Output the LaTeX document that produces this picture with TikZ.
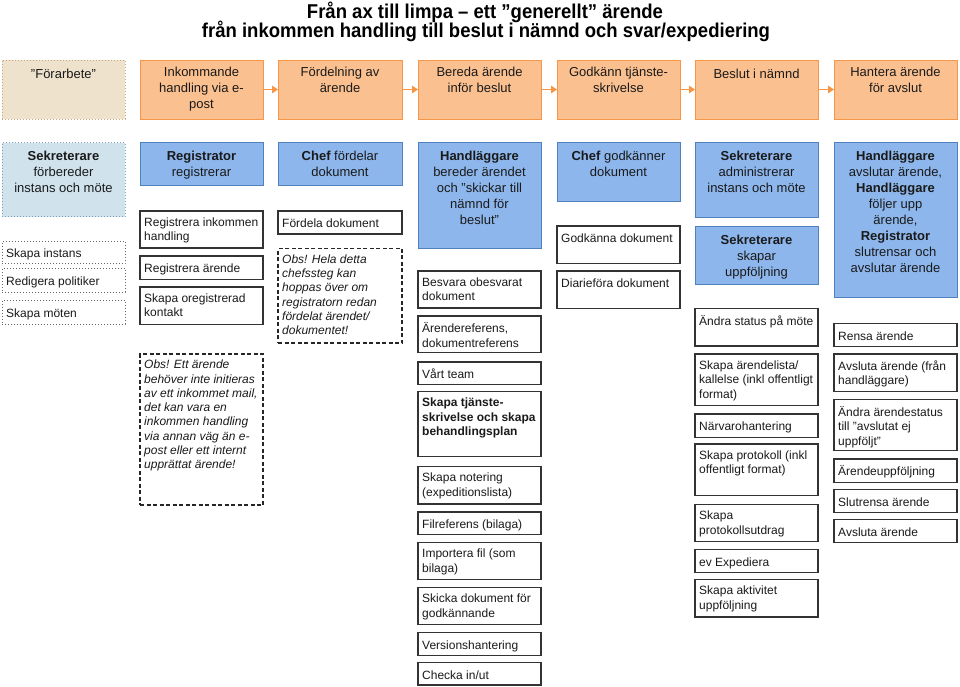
\documentclass[tikz,border=0pt]{standalone}
\usepackage{fontspec}
\setmainfont{Liberation Sans}
\newfontfamily\titlefont[FakeStretch=0.926]{Liberation Sans}
\usetikzlibrary{fit,arrows.meta}
\definecolor{procfill}{HTML}{FBC08F}
\definecolor{procborder}{HTML}{F79646}
\definecolor{prefill}{HTML}{EEE2CC}
\definecolor{preborder}{HTML}{C8A87A}
\definecolor{headfill}{HTML}{8DB6EC}
\definecolor{headborder}{HTML}{4F81BD}
\definecolor{sekfill}{HTML}{D0E3ED}
\definecolor{sekborder}{HTML}{7E9FBF}
\definecolor{txt}{HTML}{1A1A1A}
\tikzset{
  boxbase/.style={inner sep=0pt, outer sep=0pt},
  procbox/.style={boxbase, draw=procborder, fill=procfill, line width=1pt},
  prebox/.style={boxbase, draw=preborder, fill=prefill, dotted, line width=1pt},
  headbox/.style={boxbase, draw=headborder, fill=headfill, line width=1pt},
  sekbox/.style={boxbase, draw=sekborder, fill=sekfill, dotted, line width=1pt},
  itembox/.style={boxbase, draw=black!80, fill=white, line width=1.1pt},
  dotitem/.style={boxbase, draw=black!60, fill=white, dotted, line width=1pt},
  obsbox/.style={boxbase, draw=black!85, dash pattern=on 4pt off 2.5pt, line width=1.1pt},
  centertext/.style={align=center, font=\fontsize{13}{16}\selectfont, text=txt, inner sep=0pt, execute at begin node=\strut},
  itemtext/.style={align=left, font=\fontsize{12}{14.5}\selectfont, text=txt, inner sep=0pt, execute at begin node=\strut},
  obstext/.style={align=left, font=\fontsize{12}{14.3}\selectfont\itshape, text=txt, inner sep=0pt, execute at begin node=\strut},
  titletext/.style={align=center, font=\titlefont\bfseries\fontsize{20}{19}\selectfont, text=black, inner sep=0pt},
  parrow/.style={draw=procborder, line width=1.8pt, -{Triangle[length=6pt,width=7.5pt]}},
}
% #1 style, #2 name, #3 x1, #4 y1, #5 x2, #6 y2, #7 text
\newcommand\cbox[7]{%
  \node[#1, fit={(#3,#4) (#5,#6)}] (#2) {};
  \node[centertext, anchor=north] (#2t) at ([yshift=-8.8pt]#2.north) {#7};}
\newcommand\pbox[7]{%
  \node[#1, fit={(#3,#4) (#5,#6)}] (#2) {};
  \node[centertext, anchor=north] (#2t) at ([yshift=-6.8pt]#2.north) {#7};}
\newcommand\ibox[7]{%
  \node[#1, fit={(#3,#4) (#5,#6)}] (#2) {};
  \node[itemtext, anchor=north west] (#2t) at ([xshift=4pt,yshift=-6.3pt]#2.north west) {#7};}
\newcommand\obox[7]{%
  \node[#1, fit={(#3,#4) (#5,#6)}] (#2) {};
  \node[obstext, anchor=north west] (#2t) at ([xshift=4pt,yshift=-5.8pt]#2.north west) {#7};}
\begin{document}
\begin{tikzpicture}[x=1pt,y=-1pt]
\useasboundingbox (0,0) rectangle (960,686);
% title
\node[titletext, anchor=base] (title1) at (485,18.3) {Från ax till limpa – ett ”generellt” ärende};
\node[titletext, anchor=base] (title2) at (486,37.3) {från inkommen handling till beslut i nämnd och svar/expediering};
% process row
\pbox{prebox}{p0}{2}{60}{125}{119}{”Förarbete”}
\pbox{procbox}{p1}{140}{60}{263}{119}{Inkommande\\handling via e-\\post}
\pbox{procbox}{p2}{278}{60}{402}{119}{Fördelning av\\ärende}
\pbox{procbox}{p3}{418}{60}{541}{119}{Bereda ärende\\inför beslut}
\pbox{procbox}{p4}{557}{60}{680}{119}{Godkänn tjänste-\\skrivelse}
\pbox{procbox}{p5}{695}{60}{818}{119}{Beslut i nämnd}
\pbox{procbox}{p6}{834}{60}{957}{119}{Hantera ärende\\för avslut}
\draw[parrow] (p1) -- (p2);
\draw[parrow] (p2) -- (p3);
\draw[parrow] (p3) -- (p4);
\draw[parrow] (p4) -- (p5);
\draw[parrow] (p5) -- (p6);
% headers
\cbox{sekbox}{h1}{2}{142.5}{125}{216.5}{\textbf{Sekreterare}\\förbereder\\instans och möte}
\cbox{headbox}{h2}{140}{142.5}{263}{185.5}{\textbf{Registrator}\\registrerar}
\cbox{headbox}{h3}{278}{142.5}{402}{185.5}{\textbf{Chef} fördelar\\dokument}
\cbox{headbox}{h4}{418}{142.5}{541}{248.5}{\textbf{Handläggare}\\bereder ärendet\\och ”skickar till\\nämnd för\\beslut”}
\cbox{headbox}{h5}{557}{142.5}{680}{201}{\textbf{Chef} godkänner\\dokument}
\cbox{headbox}{h6}{695}{142.5}{818}{217}{\textbf{Sekreterare}\\administrerar\\instans och möte}
\cbox{headbox}{h6b}{695}{226}{818}{284}{\textbf{Sekreterare}\\skapar\\uppföljning}
\cbox{headbox}{h7}{834}{142.5}{957}{297}{\textbf{Handläggare}\\avslutar ärende,\\\textbf{Handläggare}\\följer upp\\ärende,\\\textbf{Registrator}\\slutrensar och\\avslutar ärende}
% column 1
\ibox{dotitem}{a1}{2}{241}{125}{263.5}{Skapa instans}
\ibox{dotitem}{a2}{2}{268.5}{125}{292}{Redigera politiker}
\ibox{dotitem}{a3}{2}{300.5}{125}{324}{Skapa möten}
% column 2
\ibox{itembox}{b1}{140}{211}{263}{248}{Registrera inkommen\\handling}
\ibox{itembox}{b2}{140}{256}{263}{279.5}{Registrera ärende}
\ibox{itembox}{b3}{140}{287}{263}{324.5}{Skapa oregistrerad\\kontakt}
\obox{obsbox}{b4}{140}{354}{263}{505}{Obs! Ett ärende\\behöver inte initieras\\av ett inkommet mail,\\det kan vara en\\inkommen handling\\via annan väg än e-\\post eller ett internt\\upprättat ärende!}
% column 3
\ibox{itembox}{c1}{278}{211}{402}{234}{Fördela dokument}
\obox{obsbox}{c2}{278}{248.5}{402}{343}{Obs! Hela detta\\chefssteg kan\\hoppas över om\\registratorn redan\\fördelat ärendet/\\dokumentet!}
% column 4
\ibox{itembox}{d1}{418}{271}{541}{308}{Besvara obesvarat\\dokument}
\ibox{itembox}{d2}{418}{316}{541}{352.5}{Ärendereferens,\\dokumentreferens}
\ibox{itembox}{d3}{418}{362}{541}{384.5}{Vårt team}
\ibox{itembox}{d4}{418}{391.5}{541}{456.5}{\textbf{Skapa tjänste-}\\\textbf{skrivelse och skapa}\\\textbf{behandlingsplan}}
\ibox{itembox}{d5}{418}{466.5}{541}{504}{Skapa notering\\(expeditionslista)}
\ibox{itembox}{d6}{418}{512}{541}{534.5}{Filreferens (bilaga)}
\ibox{itembox}{d7}{418}{542.5}{541}{579.5}{Importera fil (som\\bilaga)}
\ibox{itembox}{d8}{418}{587.5}{541}{624.5}{Skicka dokument för\\godkännande}
\ibox{itembox}{d9}{418}{632.5}{541}{655.5}{Versionshantering}
\ibox{itembox}{d10}{418}{662.5}{541}{685}{Checka in/ut}
% column 5
\ibox{itembox}{e1}{557}{226}{680}{263.5}{Godkänna dokument}
\ibox{itembox}{e2}{557}{271}{680}{308.5}{Diarieföra dokument}
% column 6
\ibox{itembox}{f1}{695}{308.5}{818}{346}{Ändra status på möte}
\ibox{itembox}{f2}{695}{354}{818}{405.5}{Skapa ärendelista/\\kallelse (inkl offentligt\\format)}
\ibox{itembox}{f3}{695}{414}{818}{437.5}{Närvarohantering}
\ibox{itembox}{f4}{695}{444}{818}{495.5}{Skapa protokoll (inkl\\offentligt format)}
\ibox{itembox}{f5}{695}{504.5}{818}{541.5}{Skapa\\protokollsutdrag}
\ibox{itembox}{f6}{695}{549.5}{818}{572.5}{ev Expediera}
\ibox{itembox}{f7}{695}{579.5}{818}{617}{Skapa aktivitet\\uppföljning}
% column 7
\ibox{itembox}{g1}{834}{323.5}{957}{346.5}{Rensa ärende}
\ibox{itembox}{g2}{834}{354}{957}{391.5}{Avsluta ärende (från\\handläggare)}
\ibox{itembox}{g3}{834}{399.5}{957}{450.5}{Ändra ärendestatus\\till ”avslutat ej\\uppföljt”}
\ibox{itembox}{g4}{834}{459}{957}{482.5}{Ärendeuppföljning}
\ibox{itembox}{g5}{834}{489.5}{957}{512.5}{Slutrensa ärende}
\ibox{itembox}{g6}{834}{519.5}{957}{542.5}{Avsluta ärende}
\end{tikzpicture}
\end{document}
